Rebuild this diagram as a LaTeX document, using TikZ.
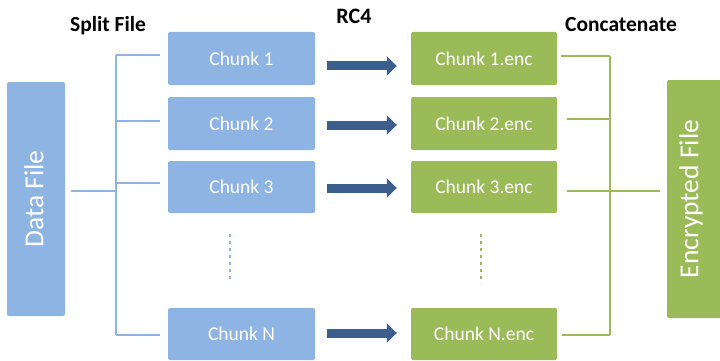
\documentclass[tikz,border=0pt]{standalone}
\usepackage{fontspec}
\setmainfont{Carlito}
\usetikzlibrary{arrows.meta}
\definecolor{bfill}{RGB}{142,180,227}
\definecolor{gfill}{RGB}{155,187,89}
\definecolor{arrc}{RGB}{59,94,140}
\begin{document}
\begin{tikzpicture}[x=1pt,y=-1pt,
  chunkbox/.style={draw=none, rounded corners=2pt, inner sep=0pt, text=white,
    font=\fontsize{19.5}{20}\selectfont, minimum height=53pt, text depth=0pt},
  bluebox/.style={chunkbox, fill=bfill, minimum width=147pt},
  greenbox/.style={chunkbox, fill=gfill, minimum width=146pt},
  bigbox/.style={draw=none, rounded corners=2pt, inner sep=0pt},
  bigtext/.style={text=white, rotate=90, inner sep=0pt, font=\fontsize{27.5}{28}\selectfont},
  headlabel/.style={anchor=base, inner sep=0pt, font=\fontsize{21.5}{22}\bfseries\selectfont},
  bline/.style={draw=bfill, line width=2pt},
  gline/.style={draw=gfill, line width=2pt},
  bdots/.style={draw=bfill, line width=2pt, dash pattern=on 3pt off 4pt},
  gdots/.style={draw=gfill, line width=2pt, dash pattern=on 3pt off 4pt},
  bigarrow/.style={draw=arrc, line width=9pt, -{Triangle[width=19pt,length=10pt]}}
]
\useasboundingbox (0,0) rectangle (720,361);

% source and target files
\node[bigbox, fill=bfill, minimum width=58pt, minimum height=234pt] (df) at (36,199) {};
\node[bigtext] (dft) at (34,199) {Data File};
\node[bigbox, fill=gfill, minimum width=56pt, minimum height=238pt] (ef) at (695,199) {};
\node[bigtext] (eft) at (691,199) {Encrypted File};

% chunks
\node[bluebox] (c1) at (241.5,58.5) {Chunk 1};
\node[bluebox] (c2) at (241.5,123.5) {Chunk 2};
\node[bluebox, minimum height=52pt] (c3) at (241.5,187) {Chunk 3};
\node[bluebox, minimum height=52pt] (cn) at (241.5,334) {Chunk N};

\node[greenbox] (e1) at (484,58.5) {Chunk 1.enc};
\node[greenbox] (e2) at (484,123.5) {Chunk 2.enc};
\node[greenbox, minimum height=52pt] (e3) at (484,187) {Chunk 3.enc};
\node[greenbox, minimum height=52pt] (en) at (484,334) {Chunk N.enc};

% headings
\node[headlabel] (lsplit) at (108,32) {Split File};
\node[headlabel, font=\fontsize{22}{22}\bfseries\selectfont] (lrc) at (354,24) {RC4};
\node[headlabel] (lcat) at (621,32) {Concatenate};

% split connector
\coordinate (sd) at (71,191);
\coordinate (sj) at (116,191);
\coordinate (s1) at (116,55);
\coordinate (s2) at (116,121);
\coordinate (s3) at (116,183);
\coordinate (sn) at (116,335);
\coordinate (t1) at (160,55);
\coordinate (t2) at (160,121);
\coordinate (t3) at (160,183);
\coordinate (tn) at (160,335);
\draw[bline] (s1) -- (sn);
\draw[bline] (sd) -- (sj);
\draw[bline] (s1) -- (t1);
\draw[bline] (s2) -- (t2);
\draw[bline] (s3) -- (t3);
\draw[bline] (sn) -- (tn);

% concatenate connector
\coordinate (g1) at (610,56);
\coordinate (g2) at (610,119);
\coordinate (gn) at (610,335);
\coordinate (h1) at (561,56);
\coordinate (h2) at (567,119);
\coordinate (h3) at (567,191);
\coordinate (hn) at (562,335);
\coordinate (he) at (660,191);
\draw[gline] (g1) -- (gn);
\draw[gline] (h1) -- (g1);
\draw[gline] (h2) -- (g2);
\draw[gline] (h3) -- (he);
\draw[gline] (hn) -- (gn);

% dots
\coordinate (bd1) at (229.5,234);
\coordinate (bd2) at (229.5,283);
\coordinate (gd1) at (481,234);
\coordinate (gd2) at (481,283);
\draw[bdots] (bd1) -- (bd2);
\draw[gdots] (gd1) -- (gd2);

% RC4 arrows
\draw[bigarrow] ([xshift=12pt,yshift=-7.5pt]c1.east) -- ([xshift=-14pt,yshift=-7.5pt]e1.west);
\draw[bigarrow] ([xshift=12pt,yshift=-1.5pt]c2.east) -- ([xshift=-14pt,yshift=-1.5pt]e2.west);
\draw[bigarrow] ([xshift=12pt,yshift=-1pt]c3.east) -- ([xshift=-14pt,yshift=-1pt]e3.west);
\draw[bigarrow] ([xshift=12pt,yshift=1pt]cn.east) -- ([xshift=-14pt,yshift=1pt]en.west);
\end{tikzpicture}
\end{document}
